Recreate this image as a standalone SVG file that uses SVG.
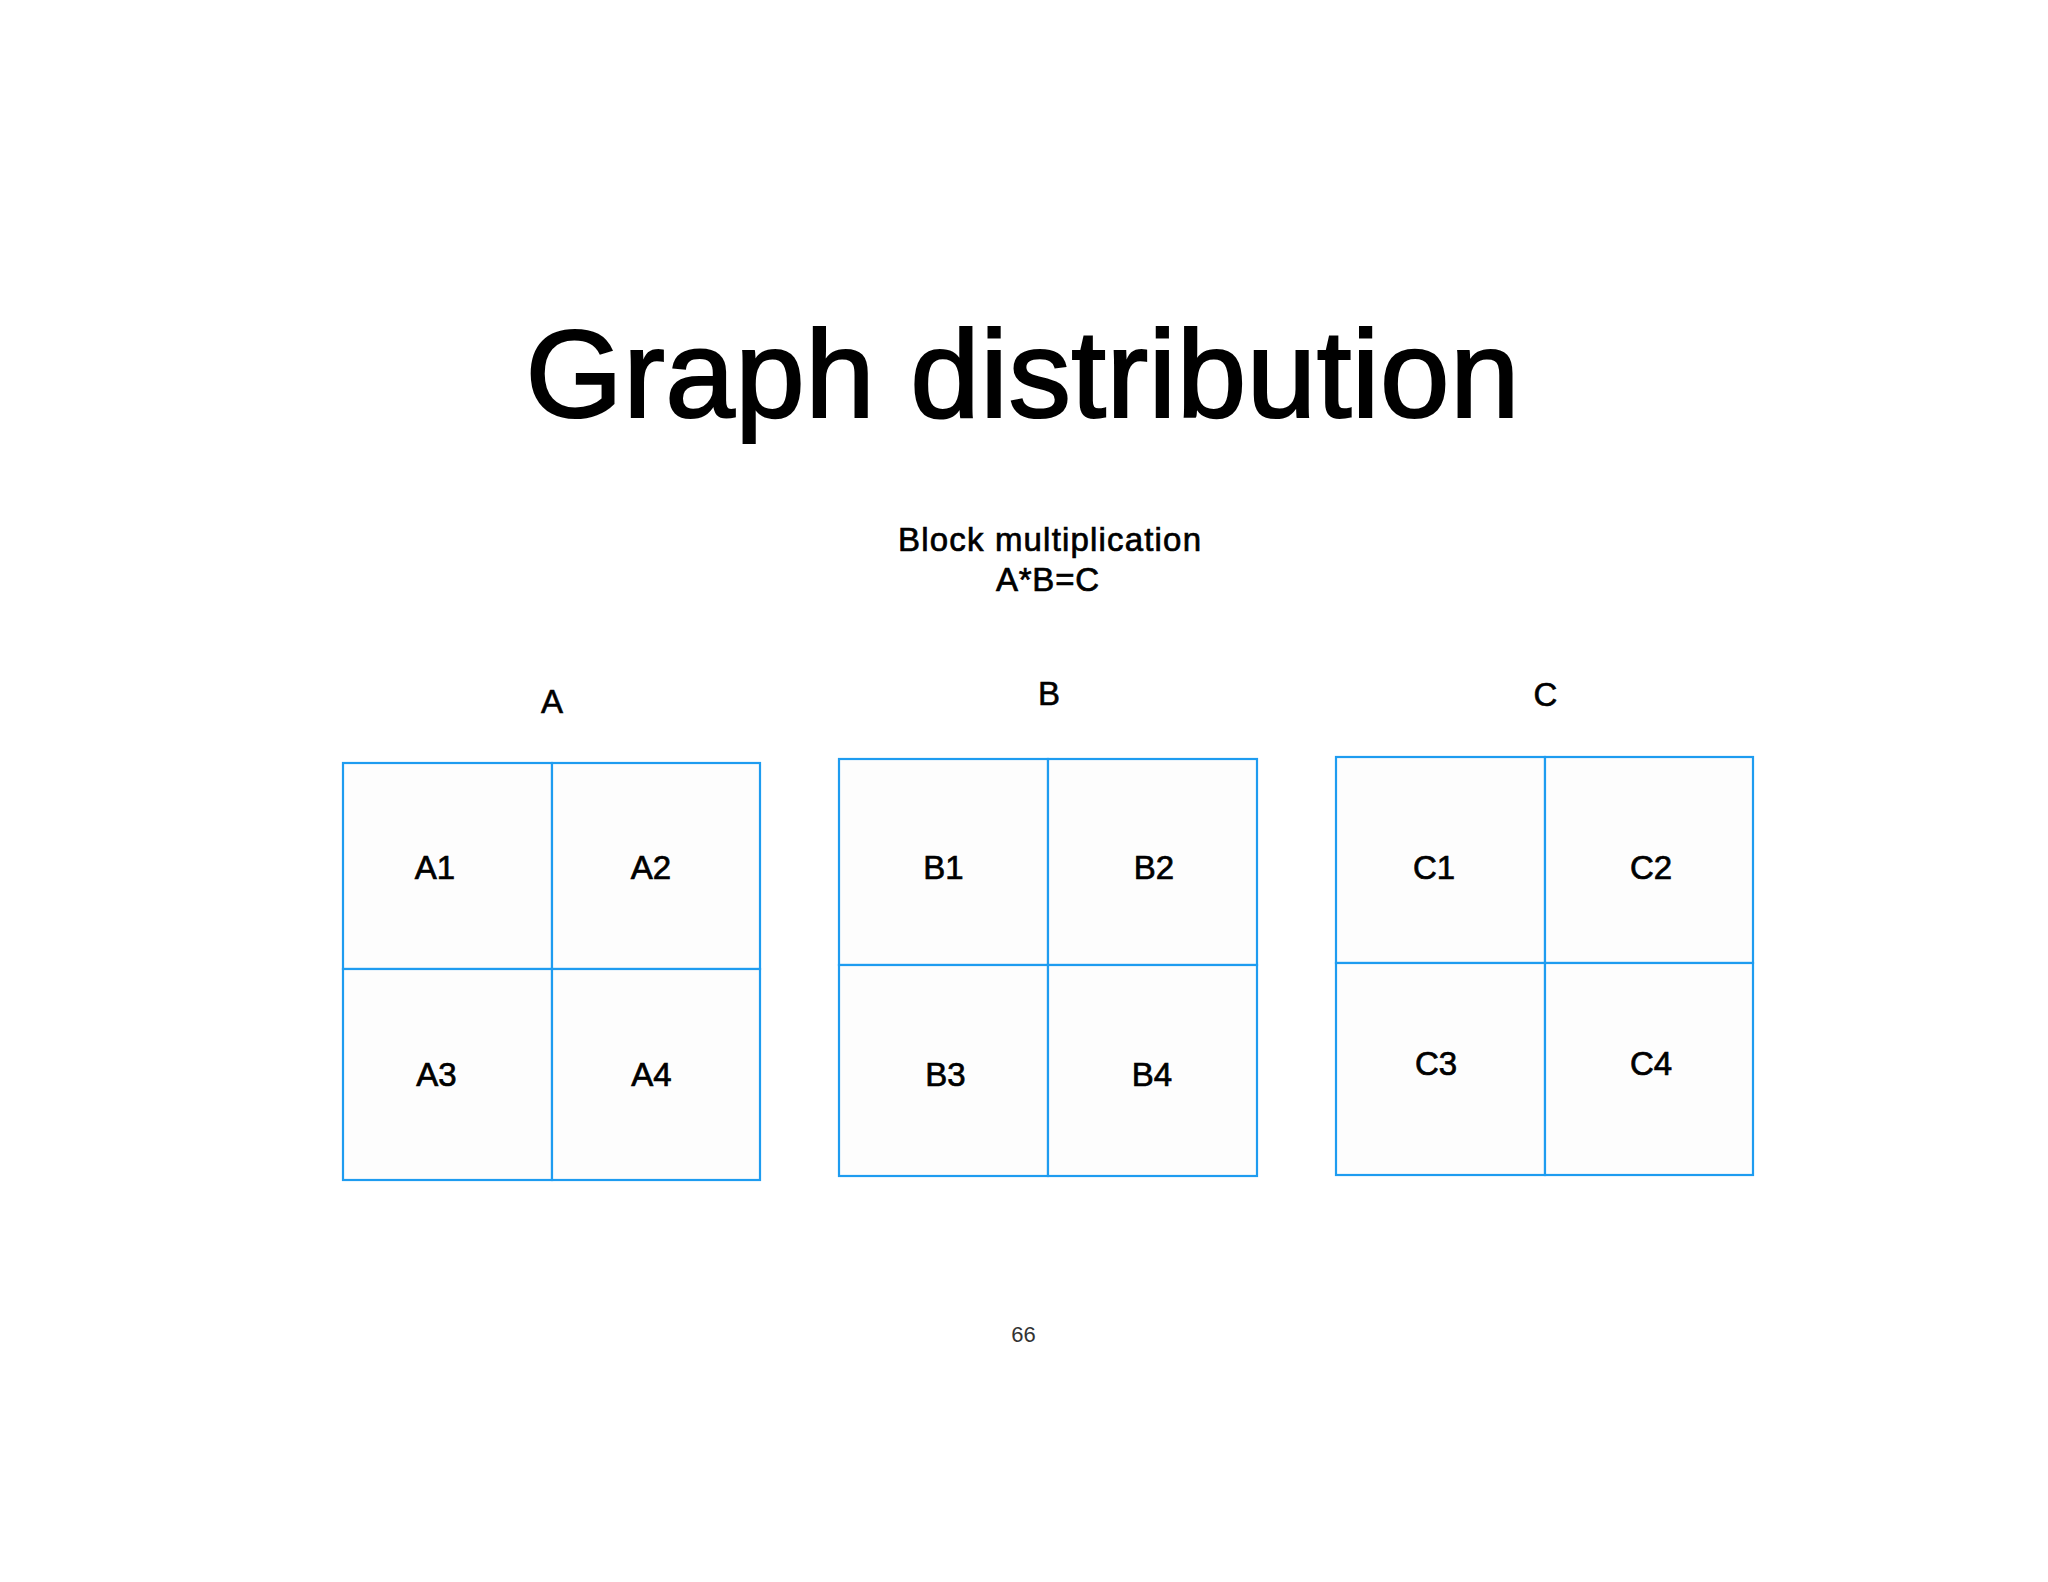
<svg xmlns="http://www.w3.org/2000/svg" width="2048" height="1582" viewBox="0 0 2048 1582">
  <style>
    .txt { font-family: "Liberation Sans", Arial, sans-serif; fill: #000; text-anchor: middle; }
    .title { font-size: 125px; stroke: #000; stroke-width: 2.2; }
    .sub { font-size: 33px; stroke: #000; stroke-width: 0.7; }
    .lbl { font-size: 33px; stroke: #000; stroke-width: 0.6; }
    .cell rect { fill: #fdfdfd; stroke: #1e9cf0; stroke-width: 2.2; }
    .cell text { font-family: "Liberation Sans", Arial, sans-serif; font-size: 33px; fill: #000; stroke: #000; stroke-width: 0.7; text-anchor: middle; }
    .pg { font-family: "Liberation Sans", Arial, sans-serif; font-size: 22px; fill: #333; text-anchor: middle; }
  </style>
  <rect x="0" y="0" width="2048" height="1582" fill="#ffffff"/>

  <text class="txt title" x="1022.5" y="417" textLength="994" lengthAdjust="spacing">Graph distribution</text>
  <text class="txt sub" x="1049.5" y="551" textLength="303" lengthAdjust="spacing">Block multiplication</text>
  <text class="txt sub" x="1047.5" y="591" textLength="103" lengthAdjust="spacing">A*B=C</text>

  <text class="txt lbl" x="552" y="713">A</text>
  <text class="txt lbl" x="1049" y="705">B</text>
  <text class="txt lbl" x="1545.5" y="706">C</text>

  <g id="matrix-A">
    <g id="A1" class="cell"><rect x="343" y="763" width="209" height="206"/><text x="435" y="879">A1</text></g>
    <g id="A2" class="cell"><rect x="552" y="763" width="208" height="206"/><text x="651" y="879">A2</text></g>
    <g id="A3" class="cell"><rect x="343" y="969" width="209" height="211"/><text x="436.5" y="1086">A3</text></g>
    <g id="A4" class="cell"><rect x="552" y="969" width="208" height="211"/><text x="651.5" y="1086">A4</text></g>
  </g>

  <g id="matrix-B">
    <g id="B1" class="cell"><rect x="839" y="759" width="209" height="206"/><text x="943.5" y="879">B1</text></g>
    <g id="B2" class="cell"><rect x="1048" y="759" width="209" height="206"/><text x="1154" y="879">B2</text></g>
    <g id="B3" class="cell"><rect x="839" y="965" width="209" height="211"/><text x="945.5" y="1086">B3</text></g>
    <g id="B4" class="cell"><rect x="1048" y="965" width="209" height="211"/><text x="1152" y="1086">B4</text></g>
  </g>

  <g id="matrix-C">
    <g id="C1" class="cell"><rect x="1336" y="757" width="209" height="206"/><text x="1434" y="879">C1</text></g>
    <g id="C2" class="cell"><rect x="1545" y="757" width="208" height="206"/><text x="1651" y="879">C2</text></g>
    <g id="C3" class="cell"><rect x="1336" y="963" width="209" height="212"/><text x="1436" y="1075">C3</text></g>
    <g id="C4" class="cell"><rect x="1545" y="963" width="208" height="212"/><text x="1651" y="1075">C4</text></g>
  </g>

  <g id="connectors"/>

  <text class="pg" x="1023.5" y="1342">66</text>
</svg>
